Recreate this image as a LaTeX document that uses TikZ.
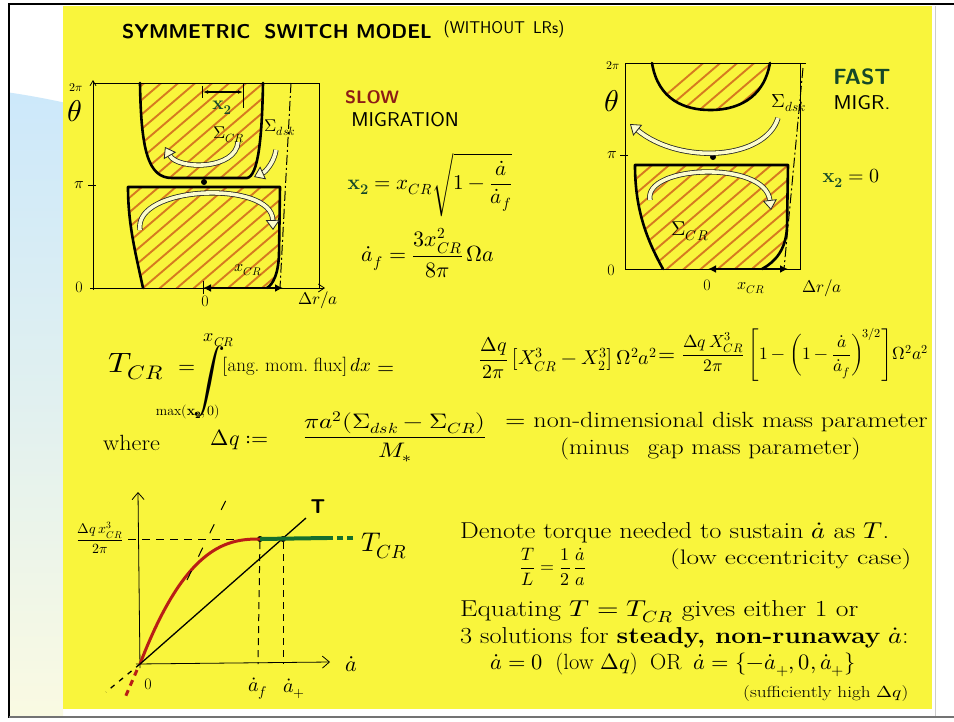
\documentclass[tikz,border=0pt]{standalone}
\usepackage{amsmath}
\usepackage{graphicx}
\usepackage{fontspec}
\usepackage{unicode-math}
\usetikzlibrary{arrows.meta}
\newcommand{\hs}[2]{\scalebox{#1}[1]{#2}}
\definecolor{bgyellow}{RGB}{249,245,60}
\definecolor{lblue}{RGB}{204,232,251}
\definecolor{cream}{RGB}{250,250,226}
\definecolor{hatchc}{RGB}{214,122,32}
\definecolor{slowred}{RGB}{140,28,22}
\definecolor{dgreen}{RGB}{22,72,40}
\definecolor{curvered}{RGB}{185,30,22}
\definecolor{lgreen}{RGB}{22,110,45}
\definecolor{arrowfill}{RGB}{252,252,205}
\tikzset{
  hatchline/.style={draw=hatchc, line width=1.9pt},
  bound/.style={line width=2.6pt, line join=round, line cap=round},
  frameline/.style={line width=0.8pt},
  hollow/.style={line width=0.8pt, draw=black!85, double=arrowfill, double distance=3.6pt, -{Triangle[length=10pt,width=14pt,fill=arrowfill]}},
  lbl/.style={inner sep=0pt, font=\fontsize{16}{18}\selectfont},
  txt/.style={inner sep=0pt, anchor=west, font=\fontsize{23}{26}\selectfont},
  blackdot/.style={circle, fill=black, inner sep=0pt, minimum size=6pt},
  dblarrow/.style={line width=2.2pt, {Latex[length=8pt,width=8pt]}-{Latex[length=8pt,width=8pt]}},
  dashdot/.style={line width=1pt, dash pattern=on 10pt off 3pt on 2pt off 3pt},
}
\begin{document}
\begin{tikzpicture}[x=1pt,y=-1pt]
\useasboundingbox (0,0) rectangle (954,721);
\fill[white] (0,0) rectangle (954,721);
\begin{scope}
  \clip (9,4) rectangle (63,717);
  \clip (-108,884) circle (800);
  \shade[top color=lblue, bottom color=cream, middle color=lblue!55!cream] (9,80) rectangle (63,717);
\end{scope}
\fill[bgyellow] (63,6) rectangle (932,709);
\draw[black!20, line width=0.8pt] (935,6) -- (935,717);
\draw[line width=2.4pt] (8,4) -- (954,4);
\draw[line width=2pt] (9,3) -- (9,718);
\draw[black!55, line width=1.5pt] (9,717) -- (954,717);

% ---------- title
\node[font=\sffamily\bfseries\fontsize{20}{24}\selectfont, inner sep=0pt] (title) at (277,32) {SYMMETRIC\hspace{14pt}SWITCH MODEL};
\node[font=\sffamily\fontsize{17}{20}\selectfont, inner sep=0pt] (subtitle) at (504,29) {(WITHOUT\hspace{8pt}LRs)};

% ---------- slow diagram
\begin{scope}
 \clip (140,83) .. controls (141,150) and (148,178) .. (172,178) -- (247,178) .. controls (258,176) and (262,140) .. (263,83) -- cycle;
 \foreach \k in {-160,-143,...,340} \draw[hatchline] (\k,300) -- ++(300,-257);
\end{scope}
\begin{scope}
 \clip (128,187) -- (280,187) -- (279,255) .. controls (278,275) and (273,284) .. (267,288) -- (143,288) .. controls (136,255) and (128,225) .. (128,187) -- cycle;
 \foreach \k in {-160,-143,...,340} \draw[hatchline] (\k,300) -- ++(300,-257);
\end{scope}
\draw[bound] (140,83) .. controls (141,150) and (148,178) .. (172,178) -- (247,178) .. controls (258,176) and (262,140) .. (263,83);
\draw[bound] (143,288) .. controls (136,255) and (128,225) .. (128,187) -- (280,187) -- (279,255) .. controls (278,275) and (273,284) .. (267,288);
\draw[frameline] (93,83) -- (319,83) -- (319,288);
\draw[frameline, -{Straight Barb[length=5pt,width=6pt]}] (93,290) -- (93,80);
\draw[frameline, -{Straight Barb[length=6pt,width=8pt]}] (90,288) -- (325,288);
\draw[frameline] (88,185) -- (96,185);
\node[blackdot] (sdot) at (204,182) {};
\draw[line width=1.2pt, {Latex[length=5pt]}-{Latex[length=5pt]}] (203,92) -- (243,92);
\draw[line width=1pt] (202,86) -- (202,98);
\draw[line width=1pt] (243,83) -- (243,108);
\draw[dblarrow] (203,288) -- (283,288);
\draw[line width=1pt] (203,281) -- (203,294);
\draw[dashdot] (291,83) -- (280,288);
\draw[hollow] (238,142) .. controls (236,170) and (178,170) .. (165,147);
\draw[hollow] (140,230) .. controls (133,185) and (272,180) .. (273,230);
\draw[hollow] (276,150) .. controls (274,163) and (265,172) .. (254,177);
\node[lbl, font=\fontsize{12}{14}\selectfont] (s2pi) at (76,88) {$2\pi$};
\node[inner sep=0pt, font=\fontsize{30}{32}\selectfont] (stheta) at (75,111) {$\theta$};
\node[lbl] (spi) at (79,185) {$\pi$};
\node[lbl] (szero) at (79,287) {0};
\node[lbl] (sO) at (205,301) {0};
\node[lbl] (sxcr) at (248,270) {$x_{CR}$};
\node[lbl, font=\fontsize{19}{21}\selectfont] (sx2) at (222,108) {$\textcolor{dgreen}{\mathbf{x}_{\mathbf{2}}}$};
\node[lbl, font=\fontsize{17}{19}\selectfont] (ssigcr) at (229,135) {$\Sigma_{CR}$};
\node[lbl, font=\fontsize{17}{19}\selectfont] (ssigdsk) at (280,128) {$\Sigma_{dsk}$};
\node[lbl, font=\fontsize{17}{19}\selectfont] (sdr) at (318,300) {$\Delta r/a$};

\node[font=\sffamily\bfseries\fontsize{18}{20}\selectfont, text=slowred, inner sep=0pt] (slow) at (372,97) {SLOW};
\node[font=\sffamily\fontsize{20}{22}\selectfont, inner sep=0pt] (migr) at (405,120) {\hs{1.05}{MIGRATION}};
\node[font=\fontsize{21}{24}\selectfont, inner sep=0pt] (eqx2) at (430,185) {$\textcolor{dgreen}{\mathbf{x}_{\mathbf{2}}} = x_{CR}\sqrt{1-\dfrac{\dot a}{\dot a_f}}$};
\node[font=\fontsize{22}{26}\selectfont, inner sep=0pt] (eqaf) at (428,253) {$\dot a_f = \dfrac{3x_{CR}^2}{8\pi}\,\Omega a$};

% ---------- fast diagram
\begin{scope}
 \clip (652,63) .. controls (658,100) and (685,110) .. (710,110) .. controls (745,110) and (765,92) .. (770,63) -- cycle;
 \foreach \k in {450,467,...,900} \draw[hatchline] (\k,280) -- ++(300,-257);
\end{scope}
\begin{scope}
 \clip (635,165) -- (788,165) -- (787,227) .. controls (786,250) and (775,262) .. (762,269) -- (663,269) .. controls (647,240) and (635,210) .. (635,165) -- cycle;
 \foreach \k in {450,467,...,900} \draw[hatchline] (\k,280) -- ++(300,-257);
\end{scope}
\draw[bound] (652,63) .. controls (658,100) and (685,110) .. (710,110) .. controls (745,110) and (765,92) .. (770,63);
\draw[bound] (663,269) .. controls (647,240) and (635,210) .. (635,165) -- (788,165) -- (787,227) .. controls (786,250) and (775,262) .. (762,269);
\draw[frameline] (625,269) -- (625,63) -- (806,63);
\draw[frameline] (800,63) -- (800,269) -- (625,269);
\draw[frameline] (620,155) -- (628,155);
\node[blackdot] (fdot) at (713,157) {};
\draw[dashdot] (803,68) -- (784,269);
\draw[hollow] (778,118) .. controls (765,160) and (680,165) .. (630,124);
\draw[hollow] (650,200) .. controls (643,165) and (765,160) .. (771,210);
\draw[dblarrow] (708,269) -- (788,269);
\node[lbl, font=\fontsize{12}{14}\selectfont] (f2pi) at (613,66) {$2\pi$};
\node[inner sep=0pt, font=\fontsize{30}{32}\selectfont] (ftheta) at (612,101) {$\theta$};
\node[lbl] (fpi) at (612,155) {$\pi$};
\node[lbl] (fzero) at (611,270) {0};
\node[lbl, font=\fontsize{19}{21}\selectfont] (fsigdsk) at (789,103) {$\Sigma_{dsk}$};
\node[lbl, font=\fontsize{20}{22}\selectfont] (fsigcr) at (690,231) {$\Sigma_{CR}$};
\node[lbl] (fO) at (707,285) {0};
\node[lbl] (fxcr) at (751,288) {$x_{CR}$};
\node[lbl, font=\fontsize{17}{19}\selectfont] (fdr) at (822,288) {$\Delta r/a$};
\node[font=\sffamily\bfseries\fontsize{22}{24}\selectfont, text=dgreen, inner sep=0pt] (fast) at (862,77) {FAST};
\node[font=\sffamily\fontsize{20}{22}\selectfont, inner sep=0pt] (migr2) at (862,103) {\hs{1.1}{MIGR.}};
\node[font=\fontsize{20}{22}\selectfont, inner sep=0pt] (fx2) at (851,178) {$\textcolor{dgreen}{\mathbf{x}_{\mathbf{2}}}=0$};

% ---------- equations
\node[font=\fontsize{28}{32}\selectfont, inner sep=0pt] (tcr) at (136,367) {\hs{1.15}{$T_{CR}$}};
\node[font=\fontsize{22}{24}\selectfont, inner sep=0pt] (eqa) at (187,369) {$=$};
\node[font=\fontsize{32}{36}\selectfont, inner sep=0pt] (intg) at (209,381) {$\displaystyle\int$};
\node[lbl, font=\fontsize{18}{21}\selectfont] (intup) at (219,340) {$x_{CR}$};
\node[lbl, font=\fontsize{14}{16}\selectfont] (intlow) at (188,412) {$\max(\mathbf{x}_{\mathbf{2}},0)$};
\node[font=\fontsize{19}{23}\selectfont, inner sep=0pt] (integrand) at (297,367) {$[\text{ang.\ mom.\ flux}]\,dx$};
\node[font=\fontsize{22}{24}\selectfont, inner sep=0pt] (eqb) at (386,370) {$=$};
\node[font=\fontsize{20}{23}\selectfont, inner sep=0pt] (rhsa) at (568,358) {$\dfrac{\Delta q}{2\pi}\left[X_{CR}^3 - X_2^3\right]\Omega^2a^2$};
\node[font=\fontsize{22}{24}\selectfont, inner sep=0pt] (eqc) at (667,357) {$=$};
\node[font=\fontsize{17.5}{21}\selectfont, inner sep=0pt] (rhsb) at (805,355) {$\dfrac{\Delta q\,X_{CR}^3}{2\pi}\left[1-\left(1-\dfrac{\dot a}{\dot a_f}\right)^{\!3/2}\right]\!\Omega^2a^2$};

\node[txt, font=\fontsize{22}{26}\selectfont] (where) at (103,443) {\hs{1.1}{where}};
\node[font=\fontsize{22}{24}\selectfont, inner sep=0pt] (dqdef) at (240,440) {$\Delta q :=$};
\node[font=\fontsize{21}{24}\selectfont, inner sep=0pt] (dqfrac) at (395,437) {\hs{1.2}{$\dfrac{\pi a^2(\Sigma_{dsk}-\Sigma_{CR})}{M_*}$}};
\node[txt, font=\fontsize{22}{25}\selectfont] (nondim) at (505,422) {\hs{1.19}{$=$ non-dimensional disk mass parameter}};
\node[txt, font=\fontsize{22}{25}\selectfont] (minus) at (560,449) {\hs{1.15}{(minus\hspace{16pt}gap mass parameter)}};

% ---------- torque graph
\coordinate (gorig) at (140,664);
\coordinate (gytop) at (138,492);
\coordinate (gxend) at (330,662);
\draw[frameline, -{Straight Barb[length=7pt,width=12pt]}] (140,668) -- (gytop);
\draw[frameline, -{Straight Barb[length=7pt,width=12pt]}] (136,664) -- (gxend);
\node[font=\fontsize{22}{24}\selectfont, inner sep=0pt] (gadot) at (351,664) {$\dot a$};
\node[lbl] (gzero) at (148,684) {0};
\node[blackdot] (pf) at (260,539) {};
\node[blackdot] (pp) at (283,539) {};
\coordinate (hl) at (128,539);
\draw[line width=1pt, dash pattern=on 8pt off 6pt] (hl) -- (pf);
\node[lbl, font=\fontsize{14}{16}\selectfont] (glbl) at (100,538) {$\dfrac{\Delta q\,x_{CR}^3}{2\pi}$};
\draw[curvered, line width=3pt] plot[domain=0:1, samples=50] ({140+120*\x},{664-125*(1-(1-\x)*(1-\x)*sqrt(1-\x))});
\draw[curvered, line width=3pt, dash pattern=on 6pt off 5pt] (137,670) -- (124,700);
\coordinate (tend) at (306,518);
\coordinate (tlow) at (106,692);
\draw[line width=1.3pt] (gorig) -- (tend);
\draw[line width=1.3pt, dash pattern=on 5pt off 6pt] (gorig) -- (tlow);
\node[font=\sffamily\bfseries\fontsize{20}{22}\selectfont, inner sep=0pt] (tlbl) at (318,507) {T};
\coordinate (gend) at (327,538);
\coordinate (gend2) at (356,538);
\draw[lgreen, line width=4pt] (pf.center) -- (gend);
\draw[lgreen, line width=4pt, dash pattern=on 6pt off 4pt] (gend) -- (gend2);
\node[font=\fontsize{27}{30}\selectfont, inner sep=0pt] (tcrl) at (384,546) {$T_{CR}$};
\coordinate (afx) at (258,664);
\coordinate (apx) at (283,664);
\draw[line width=1pt, dash pattern=on 7pt off 5pt] (pf) -- (afx);
\draw[line width=1pt, dash pattern=on 7pt off 5pt] (pp) -- (apx);
\node[font=\fontsize{20}{22}\selectfont, inner sep=0pt] (lf) at (258,689) {$\dot a_f$};
\node[font=\fontsize{20}{22}\selectfont, inner sep=0pt] (lp) at (294,689) {$\dot a_+$};
\coordinate (dgA) at (187,580);
\coordinate (dgB) at (228,496);
\draw[line width=1pt, dash pattern=on 10pt off 16pt] (dgA) -- (dgB);

% ---------- text block
\node[txt] (l1) at (460,533) {\hs{1.15}{Denote torque needed to sustain $\dot a$ as $T$.}};
\node[font=\fontsize{18}{22}\selectfont, inner sep=0pt] (l2a) at (553,567) {$\dfrac{T}{L} = \dfrac{1}{2}\,\dfrac{\dot a}{a}$};
\node[txt, font=\fontsize{21}{24}\selectfont] (l2b) at (670,559) {\hs{1.3}{(low eccentricity case)}};
\node[txt] (l3) at (460,612) {\hs{1.2}{Equating $T = T_{CR}$ gives either 1 or}};
\node[txt] (l4) at (460,638) {\hs{1.14}{3 solutions for \textbf{steady, non-runaway} $\dot a$:}};
\node[txt, font=\fontsize{22}{25}\selectfont] (l5) at (490,665) {\hs{1.02}{$\dot a = 0$\hspace{12pt}(low $\Delta q$)\hspace{12pt}OR\hspace{12pt}$\dot a = \{-\dot a_+, 0, \dot a_+\}$}};
\node[txt, font=\fontsize{16}{18}\selectfont] (l6) at (743,693) {\hs{1.2}{(sufficiently high $\Delta q$)}};
\end{tikzpicture}
\end{document}
